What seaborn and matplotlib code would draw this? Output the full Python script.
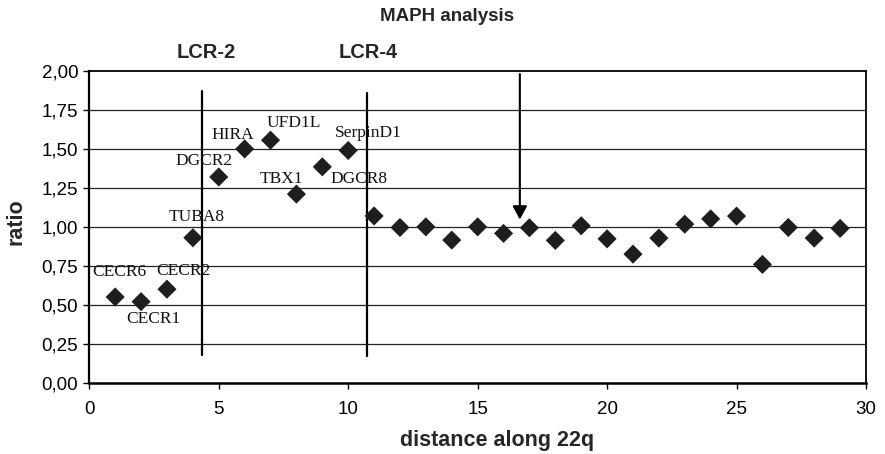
import matplotlib
matplotlib.use("Agg")
import matplotlib.pyplot as plt
from matplotlib.ticker import FuncFormatter, MultipleLocator
import numpy as np
import pandas as pd
import seaborn as sns

# MAPH-analyse langs 22q
avstand = [1, 2, 3, 4, 5, 6, 7, 8, 9, 10, 11, 12, 13, 14, 15, 16, 17, 18, 19, 20,
           21, 22, 23, 24, 25, 26, 27, 28, 29]
ratio = [0.55, 0.52, 0.60, 0.93, 1.32, 1.50, 1.556, 1.21, 1.385, 1.49, 1.07, 0.996, 1.00,
         0.915, 1.00, 0.958, 0.994, 0.913, 1.007, 0.923, 0.825, 0.928, 1.017, 1.051,
         1.069, 0.759, 0.996, 0.928, 0.99]

gener = ["CECR6", "CECR1", "CECR2", "TUBA8", "DGCR2", "HIRA", "UFD1L", "TBX1", "DGCR8", "SerpinD1"]
gen_x = [1.16, 2.47, 3.63, 4.15, 4.43, 5.53, 7.9, 7.42, 10.4, 10.78]
gen_y = [0.71, 0.406, 0.716, 1.064, 1.423, 1.592, 1.669, 1.306, 1.31, 1.603]

lcr_navn = ["LCR-2", "LCR-4"]
lcr_x = [4.37, 10.72]
lcr_topp = [1.87, 1.86]
lcr_bunn = [0.175, 0.17]
lcr_tekst_x = [4.51, 10.77]

pil_x = 16.63
pil_fra = 1.98
pil_til = 1.047

data = pd.DataFrame({"avstand": avstand, "ratio": ratio})

sns.set_style("white")
plt.rcParams["font.family"] = ["Liberation Sans", "DejaVu Sans"]

fig = plt.figure(figsize=(8.85, 4.54), dpi=100)
ax = fig.add_axes([89.3 / 885, 1 - 382.7 / 454, (866 - 89.3) / 885, (382.7 - 71) / 454])

# horisontale gridlinjer
for v in np.arange(0.25, 2.0, 0.25):
    ax.axhline(v, color="#222222", lw=0.9, zorder=1)

sns.scatterplot(data=data, x="avstand", y="ratio", marker="D", color="#1e1e1e",
                s=95, edgecolor="none", ax=ax, zorder=3, legend=False)

for navn, x, y in zip(gener, gen_x, gen_y):
    ax.text(x, y, navn, ha="center", va="center", fontsize=12.5,
            family=["Liberation Serif", "DejaVu Serif"], color="#111111", zorder=4)

for navn, x, topp, bunn, tx in zip(lcr_navn, lcr_x, lcr_topp, lcr_bunn, lcr_tekst_x):
    ax.plot([x, x], [bunn, topp], color="black", lw=1.6, zorder=2)
    ax.text(tx, 2.12, navn, ha="center", va="center", fontsize=14.5,
            fontweight="bold", clip_on=False)

ax.annotate("", xy=(pil_x, pil_til), xytext=(pil_x, pil_fra),
            arrowprops=dict(arrowstyle="-|>,head_length=0.5,head_width=0.27",
                            mutation_scale=16, color="black", lw=1.5,
                            shrinkA=0, shrinkB=0), zorder=4)

ax.set_xlim(0, 30)
ax.set_ylim(0, 2)
ax.xaxis.set_major_locator(MultipleLocator(5))
ax.yaxis.set_major_locator(MultipleLocator(0.25))
ax.yaxis.set_major_formatter(FuncFormatter(lambda v, p: f"{v:.2f}".replace(".", ",")))

for s in ax.spines.values():
    s.set_color("black")
    s.set_linewidth(1.3)
ax.spines["left"].set_linewidth(1.6)
ax.spines["bottom"].set_linewidth(1.8)

ax.tick_params(axis="both", direction="out", length=4, width=1, color="black",
               labelsize=13.5, labelcolor="black", left=True, bottom=True)
ax.tick_params(axis="x", pad=9)
ax.tick_params(axis="y", pad=4)

ax.set_xlabel("distance along 22q", fontsize=15.5, fontweight="bold")
ax.set_ylabel("ratio", fontsize=15.5, fontweight="bold")
ax.xaxis.set_label_coords(0.525, -0.187)
ax.xaxis.label.set_va("center")
ax.yaxis.set_label_coords(-0.094, 0.516)
ax.yaxis.label.set_va("center")

fig.text(447 / 885, 1 - 16.5 / 454, "MAPH analysis", ha="center", va="center",
         fontsize=13.5, fontweight="bold")

fig.savefig("out.png", dpi=100)
